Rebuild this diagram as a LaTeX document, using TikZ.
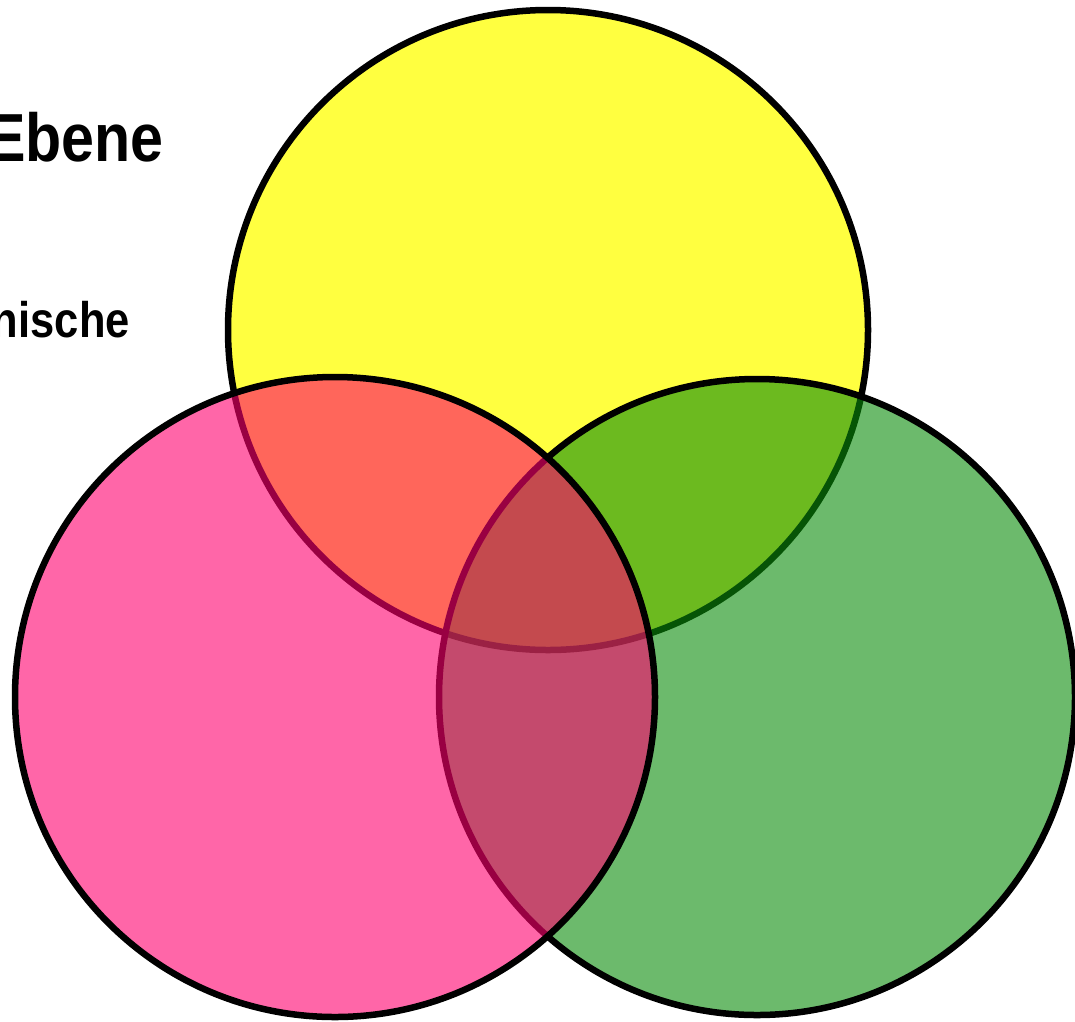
\documentclass[tikz,border=0pt]{standalone}
\usepackage{fontspec}
\usepackage{graphicx}
\setmainfont{Liberation Sans}
\definecolor{yellowc}{RGB}{255,255,64}
\definecolor{pinkc}{RGB}{255,0,110}
\definecolor{greenc}{RGB}{10,140,10}
\tikzset{
  venn/.style={draw=black, line width=6.5pt},
  lbl/.style={inner sep=0pt, anchor=base east, font=\bfseries}
}
\begin{document}
\begin{tikzpicture}[x=1pt,y=-1pt]
\useasboundingbox (0,0) rectangle (1075,1021);
\clip (0,0) rectangle (1075,1021);
\node[lbl] (t1) at (164,161) {\fontsize{68}{72}\selectfont\scalebox{0.87}[1]{Ebene}};
\node[lbl] (t2) at (130,337) {\fontsize{50}{54}\selectfont\scalebox{0.87}[1]{nische}};
\path[venn, fill=yellowc] (548,330) circle[radius=320];
\path[venn, fill=greenc, fill opacity=0.6] (757,697) circle[radius=318];
\path[venn, fill=pinkc, fill opacity=0.6] (335,697) circle[radius=320];
\end{tikzpicture}
\end{document}
